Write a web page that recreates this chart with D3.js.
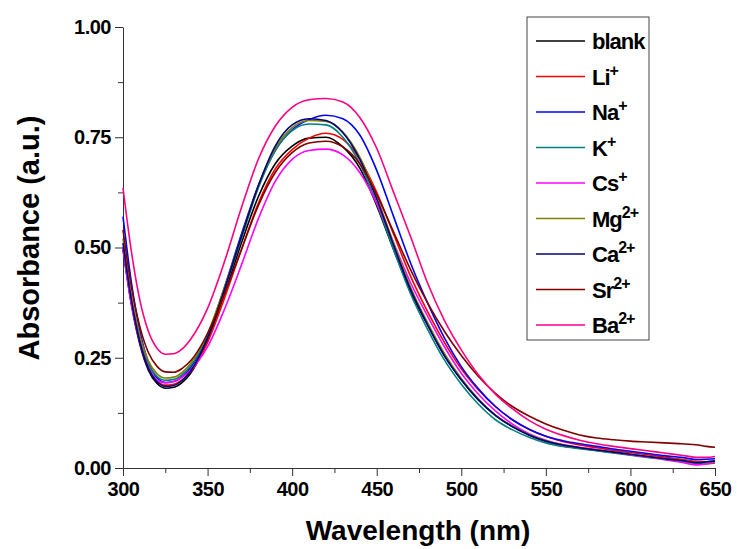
<!DOCTYPE html>
<html>
<head>
<meta charset="utf-8">
<script src="https://cdn.jsdelivr.net/npm/d3@7"></script>
<style>
  body { margin: 0; background: #fff; }
  text { font-family: "Liberation Sans", Arial, sans-serif; font-weight: bold; fill: #000; }
</style>
</head>
<body>
<div id="chart"></div>
<script>
// UV-vis absorbance spectra with metal ions
var wavelengths = [300, 305, 310, 315, 320, 325, 330, 335, 340, 350, 360, 370, 380, 390, 400, 410, 420, 430, 440, 450,
  460, 470, 480, 490, 500, 510, 520, 530, 540, 550, 560, 570, 580, 590, 600, 610, 620, 630, 640, 645, 650];

var seriesNames = ["blank", "Li", "Na", "K", "Cs", "Mg", "Ca", "Sr", "Ba"];
var seriesCharges = ["", "+", "+", "+", "+", "2+", "2+", "2+", "2+"];
var seriesColors = ["#000000", "#ff0000", "#0000ff", "#008080", "#ff00ff", "#808000", "#000080", "#800000", "#ff0080"];

var blank = [0.495, 0.37, 0.28, 0.222, 0.192, 0.181, 0.183, 0.194, 0.215, 0.29, 0.395, 0.51, 0.615, 0.69, 0.73, 0.748, 0.75, 0.728, 0.68, 0.595,
  0.495, 0.40, 0.325, 0.255, 0.20, 0.155, 0.12, 0.095, 0.075, 0.06, 0.05, 0.045, 0.04, 0.035, 0.03, 0.026, 0.022, 0.018, 0.013, 0.014, 0.016];
var li = [0.50, 0.375, 0.285, 0.228, 0.198, 0.188, 0.19, 0.20, 0.218, 0.285, 0.385, 0.495, 0.60, 0.678, 0.722, 0.748, 0.759, 0.745, 0.70, 0.625,
  0.53, 0.435, 0.355, 0.285, 0.225, 0.178, 0.14, 0.11, 0.088, 0.072, 0.06, 0.052, 0.046, 0.04, 0.035, 0.03, 0.025, 0.02, 0.014, 0.013, 0.013];
var na = [0.57, 0.42, 0.31, 0.24, 0.205, 0.194, 0.196, 0.207, 0.228, 0.30, 0.41, 0.53, 0.64, 0.72, 0.767, 0.79, 0.80, 0.792, 0.755, 0.675,
  0.57, 0.465, 0.375, 0.295, 0.23, 0.18, 0.14, 0.11, 0.088, 0.072, 0.062, 0.055, 0.049, 0.043, 0.038, 0.033, 0.028, 0.024, 0.019, 0.02, 0.021];
var k = [0.50, 0.375, 0.29, 0.235, 0.208, 0.199, 0.201, 0.212, 0.232, 0.30, 0.405, 0.52, 0.635, 0.72, 0.765, 0.78, 0.778, 0.75, 0.69, 0.60,
  0.495, 0.395, 0.315, 0.245, 0.19, 0.145, 0.11, 0.087, 0.07, 0.057, 0.049, 0.044, 0.039, 0.034, 0.029, 0.024, 0.02, 0.015, 0.01, 0.01, 0.011];
var cs = [0.50, 0.37, 0.285, 0.228, 0.20, 0.193, 0.196, 0.206, 0.222, 0.275, 0.36, 0.46, 0.565, 0.65, 0.70, 0.72, 0.723, 0.71, 0.67, 0.60,
  0.51, 0.42, 0.345, 0.275, 0.215, 0.168, 0.13, 0.10, 0.078, 0.063, 0.053, 0.047, 0.042, 0.036, 0.03, 0.025, 0.019, 0.013, 0.007, 0.009, 0.012];
var mg = [0.52, 0.39, 0.30, 0.243, 0.214, 0.204, 0.206, 0.217, 0.237, 0.305, 0.41, 0.525, 0.64, 0.725, 0.772, 0.788, 0.786, 0.762, 0.705, 0.615,
  0.51, 0.41, 0.33, 0.26, 0.203, 0.157, 0.12, 0.095, 0.076, 0.062, 0.052, 0.046, 0.041, 0.036, 0.031, 0.026, 0.021, 0.017, 0.012, 0.013, 0.014];
var ca = [0.51, 0.38, 0.285, 0.226, 0.196, 0.185, 0.187, 0.199, 0.22, 0.295, 0.405, 0.525, 0.64, 0.73, 0.778, 0.792, 0.788, 0.76, 0.70, 0.61,
  0.505, 0.405, 0.325, 0.255, 0.20, 0.155, 0.12, 0.094, 0.075, 0.061, 0.052, 0.046, 0.041, 0.036, 0.031, 0.026, 0.021, 0.017, 0.012, 0.014, 0.016];
var sr = [0.54, 0.41, 0.32, 0.262, 0.231, 0.218, 0.217, 0.226, 0.243, 0.305, 0.395, 0.495, 0.595, 0.67, 0.715, 0.737, 0.741, 0.728, 0.69, 0.62,
  0.535, 0.45, 0.375, 0.31, 0.255, 0.208, 0.17, 0.14, 0.118, 0.10, 0.086, 0.075, 0.068, 0.064, 0.061, 0.059, 0.057, 0.055, 0.052, 0.049, 0.047];
var ba = [0.635, 0.49, 0.38, 0.31, 0.272, 0.258, 0.259, 0.27, 0.292, 0.362, 0.468, 0.59, 0.70, 0.775, 0.818, 0.835, 0.838, 0.83, 0.795, 0.725,
  0.625, 0.525, 0.42, 0.335, 0.268, 0.212, 0.168, 0.135, 0.108, 0.088, 0.074, 0.063, 0.055, 0.049, 0.044, 0.039, 0.034, 0.029, 0.024, 0.024, 0.026];

var seriesValues = [blank, li, na, k, cs, mg, ca, sr, ba];

var xTicks = [300, 350, 400, 450, 500, 550, 600, 650];
var yTicks = [0, 0.25, 0.5, 0.75, 1.0];

var svgWidth = 737;
var svgHeight = 549;

var margin = { top: 27, right: 22, bottom: 81, left: 123 };
var width = svgWidth - margin.left - margin.right;
var height = svgHeight - margin.top - margin.bottom;

var svg = d3.select("#chart")
  .append("svg")
  .attr("width", svgWidth)
  .attr("height", svgHeight);

var chartGroup = svg.append("g")
  .attr("transform", `translate(${margin.left}, ${margin.top})`);

var xScale = d3.scaleLinear().domain([300, 650]).range([0, width]);
var yScale = d3.scaleLinear().domain([0, 1]).range([height, 0]);

// minor ticks first, major ticks on top
chartGroup.append("g")
  .attr("transform", `translate(0, ${height})`)
  .call(d3.axisBottom(xScale).tickValues(d3.range(325, 650, 50)).tickSize(5).tickFormat(""))
  .call(g => g.select(".domain").remove());
chartGroup.append("g")
  .call(d3.axisLeft(yScale).tickValues(d3.range(0.125, 1, 0.25)).tickSize(5).tickFormat(""))
  .call(g => g.select(".domain").remove());

var xAxis = chartGroup.append("g")
  .attr("transform", `translate(0, ${height})`)
  .call(d3.axisBottom(xScale).tickValues(xTicks).tickSize(8).tickSizeOuter(0).tickPadding(6));
var yAxis = chartGroup.append("g")
  .call(d3.axisLeft(yScale).tickValues(yTicks).tickSize(8).tickSizeOuter(0).tickPadding(4).tickFormat(d3.format(".2f")));

chartGroup.selectAll(".tick line, .domain").attr("stroke", "#333").attr("stroke-width", 1);
chartGroup.selectAll(".tick text")
  .style("font-family", "'Liberation Sans', Arial, sans-serif")
  .style("font-weight", "bold")
  .style("font-size", "20px")
  .style("letter-spacing", "-0.5px")
  .attr("fill", "#000");

// spectra
var line = d3.line()
  .x((d, i) => xScale(wavelengths[i]))
  .y(d => yScale(d))
  .curve(d3.curveMonotoneX);

chartGroup.selectAll(".spectrum")
  .data(seriesValues)
  .enter()
  .append("path")
  .attr("class", "spectrum")
  .attr("d", d => line(d))
  .attr("fill", "none")
  .attr("stroke", (d, i) => seriesColors[i])
  .attr("stroke-width", 1.6);

// legend
var legend = svg.append("g").attr("transform", "translate(527, 17)");
legend.append("rect")
  .attr("width", 122)
  .attr("height", 323)
  .attr("fill", "#fff")
  .attr("stroke", "#444")
  .attr("stroke-width", 1);

var rows = legend.selectAll(".row")
  .data(seriesNames)
  .enter()
  .append("g")
  .attr("transform", (d, i) => `translate(0, ${24 + i * 35.5})`);

rows.append("line")
  .attr("x1", 9).attr("x2", 58)
  .attr("y1", 0).attr("y2", 0)
  .attr("stroke", (d, i) => seriesColors[i])
  .attr("stroke-width", 1.6);

var labels = rows.append("text")
  .attr("x", 65)
  .attr("y", 8)
  .style("font-size", "22px")
  .style("letter-spacing", "-1px");
labels.append("tspan").text(d => d);
labels.append("tspan")
  .attr("dy", -9)
  .style("font-size", "16px")
  .text((d, i) => seriesCharges[i]);

// axis labels
svg.append("text")
  .attr("transform", `translate(${margin.left + width / 2 - 1}, 540)`)
  .style("text-anchor", "middle")
  .style("font-size", "28px")
  .text("Wavelength (nm)");

svg.append("text")
  .attr("transform", "translate(39, 238) rotate(-90)")
  .style("text-anchor", "middle")
  .style("font-size", "29px")
  .text("Absorbance (a.u.)");
</script>
</body>
</html>
